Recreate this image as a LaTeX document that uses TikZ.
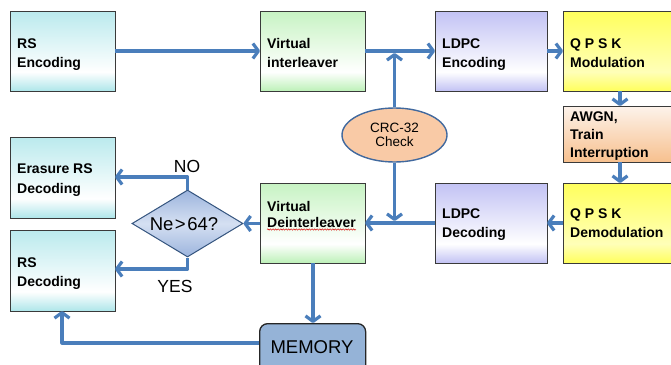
\documentclass[tikz,border=0pt]{standalone}
\usepackage{fontspec}
\setmainfont{Liberation Sans}
\usetikzlibrary{arrows.meta,shapes.geometric,calc,decorations.pathmorphing}

% palette
\definecolor{flow}{HTML}{4A7EBB}
\definecolor{boxline}{HTML}{3A3A3A}
\definecolor{rsC}{HTML}{AEE6EA}
\definecolor{vC}{HTML}{BDF1B8}
\definecolor{ldC}{HTML}{C2C2F4}
\definecolor{qC}{HTML}{FFFF5C}
\definecolor{qM}{HTML}{FFFFB8}
\definecolor{awT}{HTML}{FDF3EB}
\definecolor{awB}{HTML}{F7C08E}
\definecolor{dmC}{HTML}{9CB4DD}
\definecolor{dmM}{HTML}{D5E0F2}
\definecolor{memC}{HTML}{95B3D7}
\definecolor{crcC}{HTML}{F9CAA6}
\definecolor{crcL}{HTML}{41699E}

% box shadings: coloured edge, pale band low in the box
\pgfdeclareverticalshading{rsshade}{100bp}{color(0bp)=(rsC); color(25bp)=(rsC); color(37bp)=(white); color(75bp)=(rsC!85!white); color(100bp)=(rsC!85!white)}
\pgfdeclareverticalshading{vshade}{100bp}{color(0bp)=(vC); color(25bp)=(vC); color(37bp)=(white); color(75bp)=(vC!85!white); color(100bp)=(vC!85!white)}
\pgfdeclareverticalshading{ldshade}{100bp}{color(0bp)=(ldC); color(25bp)=(ldC); color(37bp)=(white); color(75bp)=(ldC); color(100bp)=(ldC)}
\pgfdeclareverticalshading{qshade}{100bp}{color(0bp)=(qC); color(25bp)=(qC); color(37bp)=(qM); color(75bp)=(qC); color(100bp)=(qC)}
\pgfdeclareverticalshading{awshade}{100bp}{color(0bp)=(awB); color(25bp)=(awB); color(75bp)=(awT); color(100bp)=(awT)}
\pgfdeclareverticalshading{dmshade}{100bp}{color(0bp)=(dmC); color(25bp)=(dmC); color(50bp)=(dmM); color(75bp)=(dmC); color(100bp)=(dmC)}

\tikzset{
  blockbox/.style={draw=boxline, line width=1pt, anchor=north west, inner sep=0pt, outer sep=0pt},
  btxt/.style={anchor=base west, inner sep=0pt, font=\bfseries\fontsize{14}{16}\selectfont},
  ptxt/.style={anchor=base, inner sep=0pt, font=\fontsize{17.5}{20}\selectfont},
  flowarrow/.style={draw=flow, line width=3.2pt, line join=round,
    -{Straight Barb[length=5.5pt,width=15pt,line join=round]}},
}

\begin{document}
\begin{tikzpicture}[x=1pt,y=-1pt]
\useasboundingbox (0,0) rectangle (671,364);
\fill[white] (0,0) rectangle (671,364);
\clip (0,0) rectangle (671,364);

% ---- transmit chain (top row)
\node[blockbox, shading=rsshade, minimum width=105pt, minimum height=80pt] (rsenc) at (10,11) {};
\node[btxt] (rsencA) at ($(rsenc.north west)+(7,37)$) {RS};
\node[btxt] (rsencB) at ($(rsenc.north west)+(7,56)$) {Encoding};

\node[blockbox, shading=vshade, minimum width=105pt, minimum height=80pt] (vint) at (260,11) {};
\node[btxt] (vintA) at ($(vint.north west)+(7,37)$) {Virtual};
\node[btxt] (vintB) at ($(vint.north west)+(7,56)$) {interleaver};

\node[blockbox, shading=ldshade, minimum width=112pt, minimum height=80pt] (ldenc) at (435,11) {};
\node[btxt] (ldencA) at ($(ldenc.north west)+(7,37)$) {LDPC};
\node[btxt] (ldencB) at ($(ldenc.north west)+(7,56)$) {Encoding};

\node[blockbox, shading=qshade, minimum width=114pt, minimum height=80pt] (qmod) at (563,11) {};
\node[btxt] (qmodA) at ($(qmod.north west)+(7,37)$) {Q P S K};
\node[btxt] (qmodB) at ($(qmod.north west)+(7,56)$) {Modulation};

% ---- channel
\node[blockbox, shading=awshade, minimum width=114pt, minimum height=56pt] (awgn) at (563,106) {};
\node[btxt] (awgnA) at ($(awgn.north west)+(7,15)$) {AWGN,};
\node[btxt] (awgnB) at ($(awgn.north west)+(7,33)$) {Train};
\node[btxt] (awgnC) at ($(awgn.north west)+(7,51)$) {Interruption};

% ---- receive chain (middle row)
\node[blockbox, shading=qshade, minimum width=114pt, minimum height=80pt] (qdem) at (563,183) {};
\node[btxt] (qdemA) at ($(qdem.north west)+(7,35)$) {Q P S K};
\node[btxt] (qdemB) at ($(qdem.north west)+(7,54)$) {Demodulation};

\node[blockbox, shading=ldshade, minimum width=112pt, minimum height=80pt] (lddec) at (435,183) {};
\node[btxt] (lddecA) at ($(lddec.north west)+(7,35)$) {LDPC};
\node[btxt] (lddecB) at ($(lddec.north west)+(7,54)$) {Decoding};

\node[blockbox, shading=vshade, minimum width=105pt, minimum height=80pt] (vdei) at (260,183) {};
\node[btxt] (vdeiA) at ($(vdei.north west)+(7,28)$) {Virtual};
\node[btxt] (vdeiB) at ($(vdei.north west)+(7,44)$) {Deinterleaver};
\draw[red!85!black, line width=0.45pt, decorate, decoration={snake, amplitude=0.7pt, segment length=2.6pt}]
  ($(vdeiB.base west)+(0,2.5)$) -- ($(vdeiB.base east)+(0,2.5)$);

% ---- RS decoders
\node[blockbox, shading=rsshade, minimum width=105pt, minimum height=81pt] (erdec) at (10,137) {};
\node[btxt] (erdecA) at ($(erdec.north west)+(7,36)$) {Erasure RS};
\node[btxt] (erdecB) at ($(erdec.north west)+(7,56)$) {Decoding};

\node[blockbox, shading=rsshade, minimum width=105pt, minimum height=81pt] (rsdec) at (10,230) {};
\node[btxt] (rsdecA) at ($(rsdec.north west)+(7,37)$) {RS};
\node[btxt] (rsdecB) at ($(rsdec.north west)+(7,56)$) {Decoding};

% ---- decision
\node[diamond, draw=crcL!80!black, line width=1pt, shading=dmshade, inner sep=0pt,
      minimum width=111pt, minimum height=67pt, aspect=1.66] (test) at (187.5,223.5) {};
\node[ptxt, font=\fontsize{18.5}{20}\selectfont] (testT) at (184,230.5) {Ne{\kern1.5pt}>{\kern1.5pt}64?};

% ---- CRC check
\node[ellipse, draw=crcL, line width=1.4pt, fill=crcC, inner sep=0pt,
      minimum width=105pt, minimum height=54pt, align=center,
      font=\fontsize{13.5}{15}\selectfont] (crc) at (394.5,135) {CRC-32\\[-0.5pt]Check};

% ---- memory
\node[draw=black!85, line width=1.3pt, fill=memC, rounded corners=8pt, anchor=north west,
      minimum width=106pt, minimum height=50pt, inner sep=0pt] (mem) at (259,323) {};
\node[ptxt, font=\fontsize{18.5}{20}\selectfont] (memT) at (312,353) {MEMORY};

% ---- connectors
\coordinate (crcup) at (394.5,53);
\coordinate (crcdn) at (394.5,221);
\coordinate (notop) at (187.5,177);
\coordinate (yesbot) at (187.5,269);
\coordinate (memcorner) at (62,343);

\draw[flowarrow] (rsenc.east |- 0,51) -- (vint.west |- 0,51);
\draw[flowarrow] (vint.east |- 0,51) -- (ldenc.west |- 0,51);
\draw[flowarrow] (crc.north) -- (crcup);
\draw[flowarrow] (ldenc.east |- 0,51) -- (qmod.west |- 0,51);
\draw[flowarrow] (620,91) -- (awgn.north -| 620,0);
\draw[flowarrow] (awgn.south -| 620,0) -- (qdem.north -| 620,0);
\draw[flowarrow] (qdem.west |- 0,223) -- (lddec.east |- 0,223);
\draw[flowarrow] (lddec.west |- 0,223) -- (vdei.east |- 0,223);
\draw[flowarrow] (crc.south) -- (crcdn);
\draw[flowarrow] (vdei.west |- 0,223.5) -- (test.east);
\draw[flowarrow] (test.north) -- (notop) -- (erdec.east |- notop);
\draw[flowarrow] (test.south) -- (yesbot) -- (rsdec.east |- yesbot);
\draw[flowarrow] (vdei.south -| 313,0) -- (mem.north -| 313,0);
\draw[flowarrow] (mem.west |- memcorner) -- (memcorner) -- (rsdec.south -| memcorner);

% ---- branch labels
\node[ptxt] (noT) at (187,172) {NO};
\node[ptxt] (yesT) at (175,292) {YES};
\end{tikzpicture}
\end{document}
